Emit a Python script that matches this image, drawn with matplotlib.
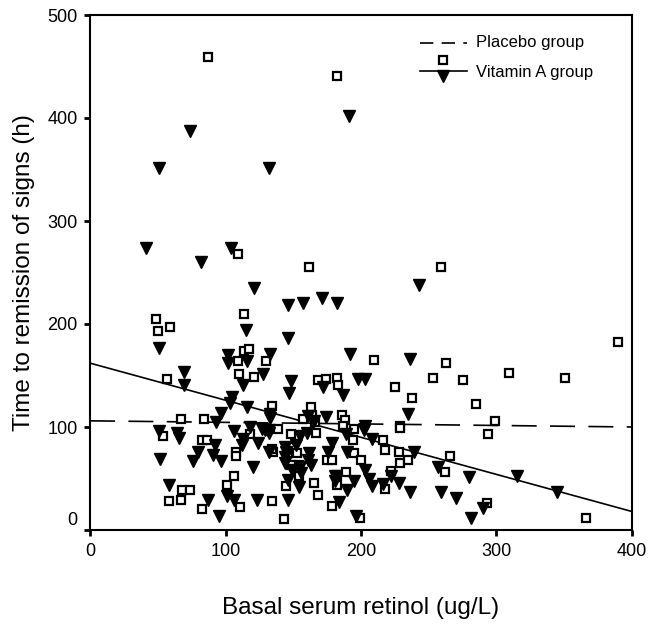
import numpy as np
import matplotlib
matplotlib.use("Agg")
import matplotlib.pyplot as plt
from matplotlib.transforms import ScaledTranslation

plt.rcParams["font.family"] = ["Liberation Sans", "DejaVu Sans"]

# placebo group (open squares): basal serum retinol (ug/L), time to remission (h)
placebo_x = [87, 182, 109, 162, 259, 114, 49, 59, 50, 390,
             210, 263, 253, 275, 225, 238, 285, 182, 183, 168, 174,
             163, 164, 157, 186, 188, 229, 309, 351, 299, 294, 293, 366,
             57, 109, 114, 117, 130, 110, 121, 134, 67, 84,
             54, 83, 86, 118, 108, 108, 135, 139, 148,
             68, 74, 58, 67, 83, 111, 134, 101, 106, 143, 145, 150, 146,
             229, 187, 195, 194, 167, 218, 216, 228, 229, 235, 266, 262,
             175, 179, 195, 200, 189, 182, 182, 165, 168, 179, 218, 222,
             154, 154, 153, 199, 166, 148, 134]
placebo_y = [459, 441, 268, 255, 255, 210, 205, 197, 193, 183,
             165, 162, 148, 146, 139, 128, 122, 148, 141, 146, 147,
             119, 112, 108, 112, 107, 101, 152, 148, 106, 93, 26, 12,
             147, 164, 174, 176, 164, 151, 149, 120, 108, 108,
             91, 87, 87, 93, 76, 72, 76, 98, 93,
             39, 39, 28, 29, 20, 22, 28, 44, 52, 11, 43, 81, 75,
             99, 101, 98, 87, 94, 78, 87, 76, 65, 68, 72, 56,
             68, 68, 75, 68, 56, 53, 44, 46, 34, 23, 40, 57,
             52, 63, 75, 12, 105, 63, 79]

# vitamin A group (filled triangles)
vita_x = [191, 74, 51, 132, 41, 104, 82, 243, 121, 146, 157, 171, 182,
          115, 146, 51, 102, 102, 116, 133, 69, 69, 128, 113, 148, 147, 105, 103, 116, 133, 97, 93,
          192, 236, 198, 203, 172, 187, 235, 161, 174, 203,
          315, 345, 290,
          51, 64, 66, 52, 76, 80, 92, 91, 97, 106, 113, 112, 120, 124, 132, 129, 132,
          58, 87, 95, 101, 106, 123, 146, 144, 149, 146,
          179, 176, 190, 162, 161, 163, 155, 156, 154, 152, 155, 160, 189, 202, 208,
          203, 206, 208, 181, 181, 195, 190, 184, 216, 228, 236, 222, 239, 257, 280,
          259, 270, 281, 196, 118, 127, 132, 165, 144, 145, 144, 133]
vita_y = [402, 387, 351, 351, 274, 274, 260, 238, 235, 218, 220, 225, 220,
          194, 186, 177, 170, 162, 164, 171, 153, 141, 151, 141, 145, 133, 129, 123, 119, 113, 114, 105,
          171, 166, 147, 147, 139, 131, 113, 111, 110, 101,
          52, 37, 21,
          96, 94, 89, 69, 67, 76, 83, 73, 67, 96, 88, 83, 61, 84, 76, 97, 94,
          44, 29, 14, 33, 29, 29, 29, 65, 58, 49,
          84, 76, 76, 75, 68, 63, 61, 55, 42, 83, 91, 94, 93, 97, 88,
          58, 50, 43, 52, 48, 48, 39, 27, 45, 46, 37, 52, 76, 61, 51,
          37, 31, 12, 14, 100, 98, 97, 106, 81, 76, 71, 109]

# regression lines (end points)
fit_x = [0, 400]
placebo_fit = [106, 100]
vita_fit = [162, 18]

fig = plt.figure(figsize=(6.48, 6.25), dpi=100)
ax = fig.add_axes([0.139, 0.152, 0.836, 0.824])

ax.plot(fit_x, placebo_fit, color="black", lw=1.2, dashes=(15, 8))
ax.plot(fit_x, vita_fit, color="black", lw=1.2)
ax.plot(placebo_x, placebo_y, ls="none", marker="s", ms=6, mfc="white",
        mec="black", mew=1.6)
ax.plot(vita_x, vita_y, ls="none", marker="v", ms=9, mfc="black", mec="black")

ax.set_xlim(0, 400)
ax.set_ylim(0, 500)
ax.set_xticks([0, 100, 200, 300, 400])
ax.set_yticks([0, 100, 200, 300, 400, 500])
ax.tick_params(direction="out", length=4, width=2, labelsize=13, pad=5)
for s in ax.spines.values():
    s.set_linewidth(1.5)

# the "0" on the y axis sits a little above its tick in the original
lab0 = ax.yaxis.get_major_ticks()[0].label1
lab0.set_transform(lab0.get_transform() + ScaledTranslation(0, 8 / 72, fig.dpi_scale_trans))

ax.set_xlabel("Basal serum retinol (ug/L)", fontsize=17.5, labelpad=27)
ax.set_ylabel("Time to remission of signs (h)", fontsize=17.5, labelpad=9)

# hand-drawn legend, as in the original
T = ax.transAxes
ax.plot([0.609, 0.696], [0.946, 0.946], color="black", lw=1.2, dashes=(8, 5), transform=T)
ax.plot([0.651], [0.913], marker="s", ms=6, mfc="white", mec="black", mew=1.6, transform=T)
ax.text(0.712, 0.946, "Placebo group", fontsize=12, va="center", transform=T)
ax.plot([0.609, 0.696], [0.891, 0.891], color="black", lw=1.2, transform=T)
ax.plot([0.651], [0.882], marker="v", ms=9, color="black", transform=T)
ax.text(0.712, 0.889, "Vitamin A group", fontsize=12, va="center", transform=T)

fig.savefig("out.png", dpi=100)
